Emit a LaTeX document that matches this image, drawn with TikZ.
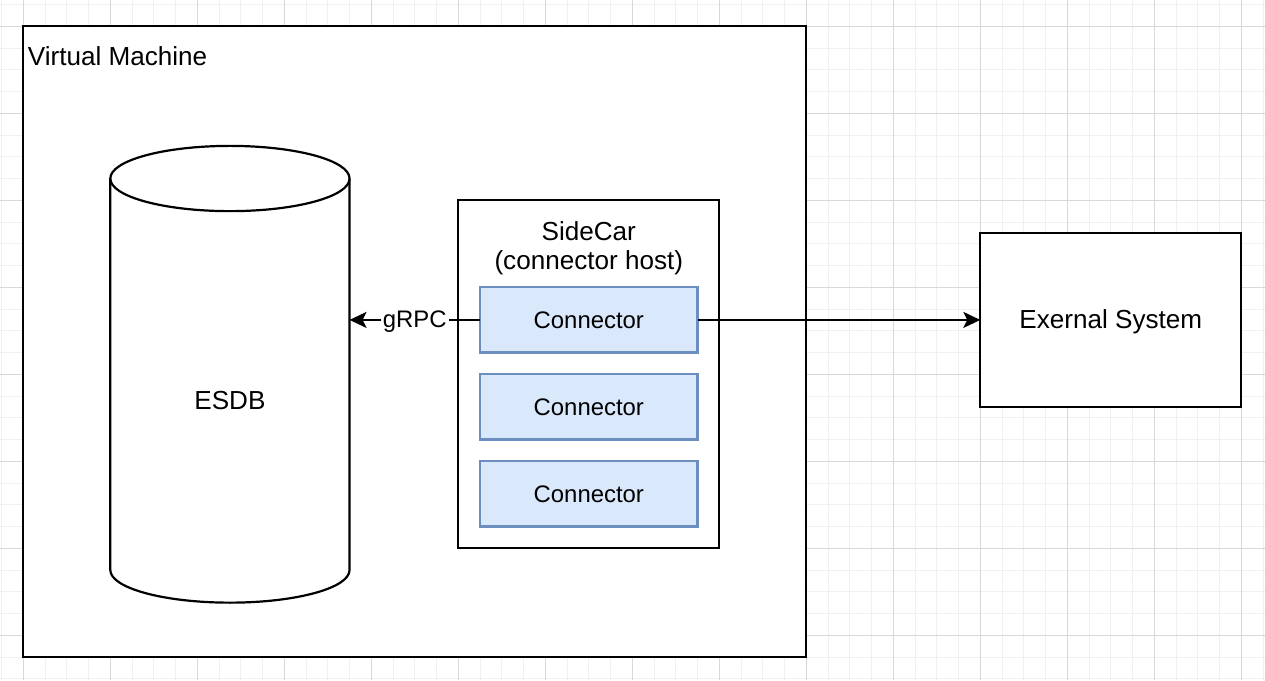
\documentclass[tikz,border=0pt]{standalone}
\usepackage{fontspec}
\setmainfont{Liberation Sans}
\usetikzlibrary{arrows.meta}
\definecolor{gridminor}{HTML}{F0F0F0}
\definecolor{gridmajor}{HTML}{D8D8D8}
\definecolor{connfill}{HTML}{DAE8FC}
\definecolor{connline}{HTML}{6C8EBF}
\begin{document}
\begin{tikzpicture}[x=1pt,y=1pt,
  shapebox/.style={draw=black, line width=2.2pt, fill=white, inner sep=0pt, outer sep=0pt},
  connbox/.style={draw=connline, fill=connfill, line width=2.2pt, inner sep=0pt, outer sep=0pt,
    minimum width=217.5pt, minimum height=65.25pt, font=\fontsize{23.9}{26.3}\selectfont},
  bigtext/.style={inner sep=0pt, font=\fontsize{26.1}{28.7}\selectfont},
  edgelabel/.style={fill=white, inner xsep=2pt, inner ysep=1pt, font=\fontsize{23.9}{26.3}\selectfont},
  flow/.style={line width=2.2pt, -{Stealth[length=17pt,width=16pt,inset=4pt]}},
  minorline/.style={draw=gridminor, line width=1pt},
  majorline/.style={draw=gridmajor, line width=1pt}]
\useasboundingbox (0,0) rectangle (1265,680);
\fill[white] (0,0) rectangle (1265,680);
% grid
\foreach \k in {0,...,58}{
  \pgfmathsetmacro\xx{1.55+21.75*\k}
  \draw[minorline] (\xx,0) -- (\xx,680);}
\foreach \k in {0,...,31}{
  \pgfmathsetmacro\yy{675.45-21.75*\k}
  \draw[minorline] (0,\yy) -- (1265,\yy);}
\foreach \k in {1,5,...,57}{
  \pgfmathsetmacro\xx{1.55+21.75*\k}
  \draw[majorline] (\xx,0) -- (\xx,680);}
\foreach \k in {1,5,...,29}{
  \pgfmathsetmacro\yy{675.45-21.75*\k}
  \draw[majorline] (0,\yy) -- (1265,\yy);}
% virtual machine
\node[shapebox, minimum width=783pt, minimum height=630.75pt] (vm) at (414.8,338.325) {};
\node[bigtext, anchor=base west] (vmlabel) at (27.65,614) {Virtual Machine};
% ESDB cylinder
\node[inner sep=0pt, outer sep=0pt, minimum width=239.25pt, minimum height=456.75pt] (esdb) at (229.925,305.725) {};
\draw[line width=2.2pt, fill=white, line join=round]
  ([yshift=-32.625pt]esdb.north west)
  arc[start angle=180, end angle=0, x radius=119.625pt, y radius=32.625pt]
  -- ([yshift=32.625pt]esdb.south east)
  arc[start angle=0, end angle=-180, x radius=119.625pt, y radius=32.625pt]
  -- cycle;
\draw[line width=2.2pt]
  ([yshift=-32.625pt]esdb.north west)
  arc[start angle=180, end angle=360, x radius=119.625pt, y radius=32.625pt];
\node[bigtext, anchor=base] (esdblabel) at (229.925,270) {ESDB};
% sidecar
\node[shapebox, minimum width=261pt, minimum height=348pt] (sidecar) at (588.8,305.7) {};
\node[bigtext, anchor=base] (sctitle) at (588.8,439) {SideCar};
\node[bigtext, anchor=base] (schost) at (588.8,410.3) {(connector host)};
\node[connbox] (c1) at (588.8,360.075) {Connector};
\node[connbox] (c2) at (588.8,273.075) {Connector};
\node[connbox] (c3) at (588.8,186.075) {Connector};
% external system
\node[shapebox, minimum width=261pt, minimum height=174pt] (ext) at (1110.8,360.075) {};
\node[bigtext, anchor=base] (extlabel) at (1110.8,351.5) {Exernal System};
% connectors
\draw[flow] (c1.east) -- (c1.east -| ext.west);
\draw[flow] (c1.west) -- node[edgelabel, pos=0.5, anchor=base, yshift=-7.9pt] (grpc) {gRPC} (c1.west -| esdb.east);
\end{tikzpicture}
\end{document}
